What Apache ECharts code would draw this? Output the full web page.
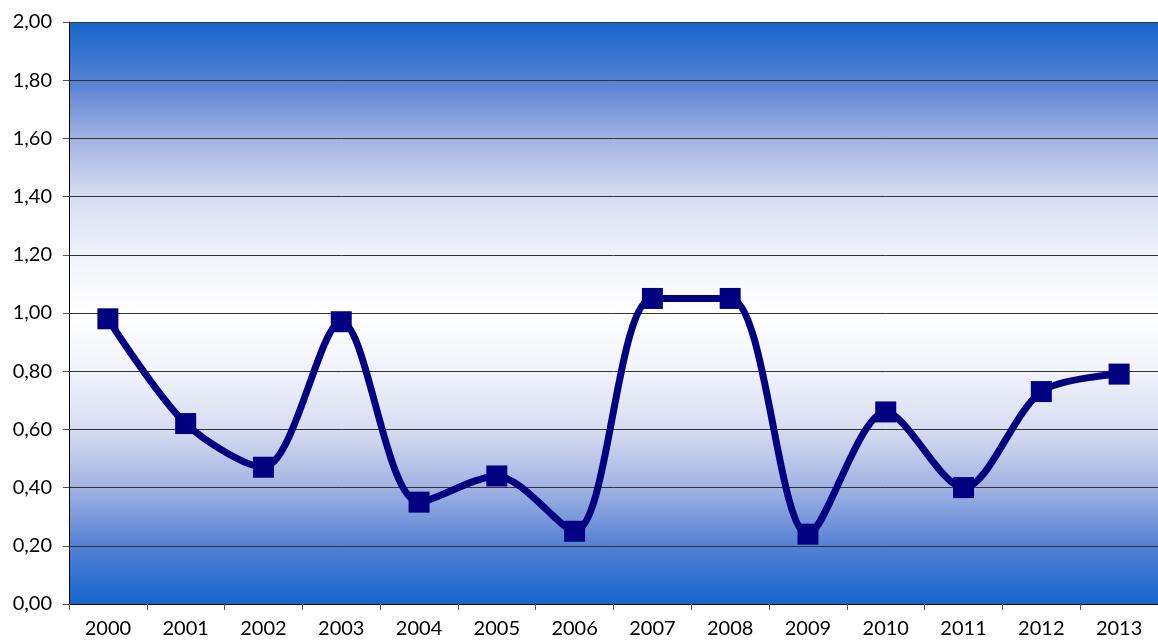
<!DOCTYPE html>
<html>
<head>
<meta charset="utf-8">
<script src="https://cdn.jsdelivr.net/npm/echarts@6/dist/echarts.min.js"></script>
<style>
html,body{margin:0;padding:0;background:#fff;}
#c{width:1158px;height:643px;}
</style>
</head>
<body>
<div id="c"></div>
<script>
var categories = ['2000','2001','2002','2003','2004','2005','2006','2007','2008','2009','2010','2011','2012','2013'];
var values = [0.98, 0.62, 0.47, 0.97, 0.35, 0.44, 0.25, 1.05, 1.05, 0.24, 0.66, 0.40, 0.73, 0.79];

var chart = echarts.init(document.getElementById('c'));
var font = 'Lato, "Open Sans", sans-serif';
chart.setOption({
  animation: false,
  grid: {
    left: 69, right: 0, top: 22, bottom: 39,
    show: true,
    borderWidth: 0,
    backgroundColor: {
      type: 'linear', x: 0, y: 0, x2: 0, y2: 1,
      colorStops: [
        {offset: 0, color: '#1565cc'},
        {offset: 0.1, color: '#5580d3'},
        {offset: 0.2, color: '#a2b3e2'},
        {offset: 0.3, color: '#d6ddf1'},
        {offset: 0.4, color: '#f1f3fb'},
        {offset: 0.5, color: '#ffffff'},
        {offset: 0.6, color: '#f1f3fb'},
        {offset: 0.7, color: '#d6ddf1'},
        {offset: 0.8, color: '#a2b3e2'},
        {offset: 0.9, color: '#5580d3'},
        {offset: 1, color: '#1565cc'}
      ]
    }
  },
  xAxis: {
    type: 'category',
    data: categories,
    boundaryGap: true,
    axisLine: {show: true, lineStyle: {color: '#000', width: 1}},
    axisTick: {show: true, length: 6, lineStyle: {color: '#555'}},
    axisLabel: {color: '#000', fontSize: 20, fontFamily: font, margin: 15},
    splitLine: {show: false}
  },
  yAxis: {
    type: 'value',
    min: 0, max: 2, interval: 0.2,
    axisLine: {show: true, lineStyle: {color: '#000', width: 1}},
    axisTick: {show: true, length: 6, lineStyle: {color: '#555'}},
    axisLabel: {
      color: '#000', fontSize: 20, fontFamily: font, margin: 17,
      formatter: function (v) { return v.toFixed(2).replace('.', ','); }
    },
    splitLine: {show: true, lineStyle: {color: '#333', width: 1}}
  },
  series: [{
    type: 'line',
    data: values,
    smooth: 0.3,
    symbol: 'rect',
    symbolSize: 21,
    itemStyle: {color: '#000080'},
    lineStyle: {color: '#000080', width: 7}
  }]
});
</script>
</body>
</html>
